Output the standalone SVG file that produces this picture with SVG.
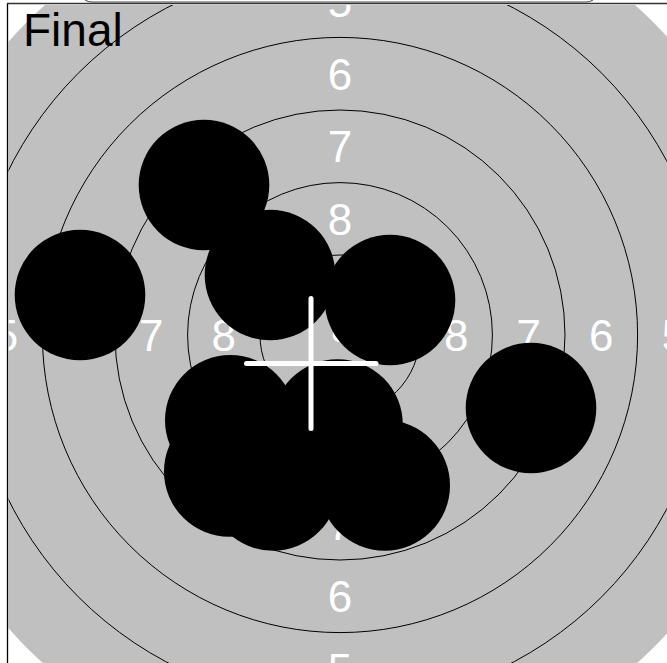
<svg xmlns="http://www.w3.org/2000/svg" width="667" height="663" viewBox="0 0 667 663">
  <style>
    .ring { fill: none; stroke: #000; stroke-width: 1; }
    .num { fill: #fff; font-family: "Liberation Sans", Arial, sans-serif; font-size: 44px; text-anchor: middle; }
    .shot { fill: #000; }
    .cross { stroke: #fff; stroke-width: 5; stroke-linecap: round; }
  </style>
  <defs>
    <clipPath id="frame">
      <rect x="8.5" y="5" width="660" height="660"/>
    </clipPath>
  </defs>
  <rect x="0" y="0" width="667" height="663" fill="#fff"/>
  <g id="target" clip-path="url(#frame)">
    <circle cx="340" cy="335" r="442.7" fill="#c0c0c0"/>
    <circle class="ring" cx="340" cy="335" r="80"/>
    <circle class="ring" cx="340" cy="335" r="152.4"/>
    <circle class="ring" cx="340" cy="335" r="225"/>
    <circle class="ring" cx="340" cy="335" r="297.6"/>
    <circle class="ring" cx="340" cy="335" r="370.2"/>
    <circle cx="340" cy="335" r="7.3" fill="#fff"/>
    <g id="numbers">
      <text class="num" x="340" y="16.8">5</text>
      <text class="num" x="340" y="89.5">6</text>
      <text class="num" x="340" y="162">7</text>
      <text class="num" x="340" y="234.6">8</text>
      <text class="num" x="340" y="539.5">7</text>
      <text class="num" x="340" y="612">6</text>
      <text class="num" x="340" y="684.7">5</text>
      <text class="num" x="6" y="350.8">5</text>
      <text class="num" x="151.3" y="350.8">7</text>
      <text class="num" x="223.8" y="350.8">8</text>
      <text class="num" x="456.2" y="350.8">8</text>
      <text class="num" x="528.7" y="350.8">7</text>
      <text class="num" x="601.3" y="350.8">6</text>
      <text class="num" x="673.9" y="350.8">5</text>
    </g>
  </g>
  <g id="frame-lines" fill="none">
    <line x1="7.5" y1="3" x2="7.5" y2="663" stroke="#000" stroke-width="1.3"/>
    <line x1="7" y1="3.5" x2="667" y2="3.5" stroke="#333" stroke-width="1.5"/>
    <path d="M80 -6 Q84 2 92 2 L586 2 Q594 2 598 -6" stroke="#444" stroke-width="1"/>
  </g>
  <text id="title" x="23" y="46" font-family="Liberation Sans, Arial, sans-serif" font-size="46" fill="#000">Final</text>
  <g id="shots">
    <circle class="shot" id="shot1" cx="204" cy="185" r="65.3"/>
    <circle class="shot" id="shot2" cx="80" cy="295" r="65.3"/>
    <circle class="shot" id="shot3" cx="270" cy="275" r="65.3"/>
    <circle class="shot" id="shot4" cx="390" cy="300" r="65.3"/>
    <circle class="shot" id="shot5" cx="531" cy="408" r="65.3"/>
    <circle class="shot" id="shot6" cx="230.3" cy="420.3" r="65.3"/>
    <circle class="shot" id="shot7" cx="229.3" cy="471.4" r="65.3"/>
    <circle class="shot" id="shot8" cx="273" cy="485.4" r="65.3"/>
    <circle class="shot" id="shot9" cx="337.5" cy="424.5" r="65.3"/>
    <circle class="shot" id="shot10" cx="384.7" cy="485.4" r="65.3"/>
  </g>
  <g id="crosshair">
    <line class="cross" x1="311" y1="298.5" x2="311" y2="428.5"/>
    <line class="cross" x1="246.5" y1="363.5" x2="376" y2="363.5"/>
  </g>
</svg>
